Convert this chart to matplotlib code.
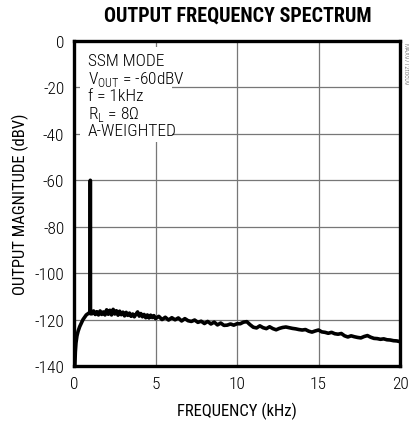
import matplotlib
matplotlib.use("Agg")
import matplotlib.pyplot as plt
from matplotlib.patches import Rectangle

plt.rcParams['font.family'] = ['Roboto Condensed', 'DejaVu Sans']
plt.rcParams['font.weight'] = 'light'
plt.rcParams['mathtext.fontset'] = 'custom'
plt.rcParams['mathtext.rm'] = 'Roboto Condensed:light'
plt.rcParams['axes.unicode_minus'] = False

# noise floor + 1kHz tone (kHz, dBV)
freq = [0.05, 0.08, 0.12, 0.18, 0.25, 0.35, 0.45, 0.55, 0.65, 0.75, 0.85, 0.95,
        0.99, 1.0, 1.01, 1.1, 1.2, 1.3, 1.4, 1.5, 1.6, 1.7, 1.8, 1.9,
        2.0, 2.1, 2.2, 2.3, 2.4, 2.5, 2.6, 2.7, 2.8, 2.9,
        3.0, 3.1, 3.2, 3.3, 3.4, 3.5, 3.6, 3.7, 3.8, 3.9,
        4.0, 4.1, 4.2, 4.3, 4.4, 4.5, 4.6, 4.7, 4.8, 4.9,
        5.0, 5.2, 5.4, 5.6, 5.8, 6.0, 6.2, 6.4, 6.6, 6.8,
        7.0, 7.2, 7.4, 7.6, 7.8, 8.0, 8.2, 8.4, 8.6, 8.8,
        9.0, 9.2, 9.4, 9.6, 9.8, 10.0, 10.2, 10.4, 10.6, 10.8,
        11.0, 11.2, 11.4, 11.6, 11.8, 12.0, 12.2, 12.4, 12.6, 12.8,
        13.0, 13.2, 13.4, 13.6, 13.8, 14.0, 14.2, 14.4, 14.6, 14.8,
        15.0, 15.2, 15.4, 15.6, 15.8, 16.0, 16.2, 16.4, 16.6, 16.8,
        17.0, 17.2, 17.4, 17.6, 17.8, 18.0, 18.2, 18.4, 18.6, 18.8,
        19.0, 19.2, 19.4, 19.6, 19.8, 20.0]
level = [-140, -134, -130, -127, -125, -123, -121.5, -120, -119, -118, -117.5, -117,
         -117, -60, -117.5, -117.5, -116.3, -117.8, -116.6, -118.0, -116.3, -117.8, -116.7, -118.0,
         -115.8, -117.7, -116.0, -118.0, -115.6, -117.6, -116.2, -118.1, -116.4, -117.9,
         -116.8, -118.4, -116.9, -118.2, -117.2, -118.6, -117.6, -118.8, -117.7, -116.7,
         -118.5, -117.4, -118.8, -117.8, -119.2, -118.0, -119.3, -118.1, -119.1, -118.3,
         -119.6, -118.6, -120.0, -119.0, -120.2, -119.2, -120.1, -119.3, -120.6, -119.6,
         -120.5, -120.8, -120.2, -121.2, -120.7, -121.7, -120.8, -121.9, -121.1, -122.3,
         -121.5, -122.5, -122.4, -121.9, -122.4, -121.8, -121.8, -121.1, -120.9, -122.2,
         -123.3, -123.6, -122.7, -123.5, -123.9, -123.1, -123.9, -124.4, -123.8, -123.4,
         -123.2, -123.5, -123.8, -124.0, -124.3, -124.5, -124.3, -125.0, -125.4, -124.9,
         -124.5, -125.3, -125.5, -125.9, -125.5, -126.1, -126.3, -126.0, -127.0, -127.5,
         -127.0, -127.4, -127.7, -127.9, -127.3, -126.9, -127.6, -128.1, -128.2, -128.5,
         -128.3, -128.7, -128.8, -129.1, -129.2, -129.5]

xticks = [0, 5, 10, 15, 20]
yticks = [0, -20, -40, -60, -80, -100, -120, -140]
notes = ["SSM MODE", r"V$_{\mathregular{OUT}}$ = -60dBV", "f = 1kHz",
         r"R$_{\mathregular{L}}$ = 8Ω", "A-WEIGHTED"]

fig = plt.figure(figsize=(4.09, 4.31), dpi=100)
ax = fig.add_axes([0.181, 0.1485, 0.797, 0.754])

ax.plot(freq, level, color='black', lw=2.6, zorder=3, solid_joinstyle='round')

ax.set_xlim(0, 20)
ax.set_ylim(-140, 0)
ax.set_xticks(xticks)
ax.set_yticks(yticks)
ax.tick_params(length=0, labelsize=12.5, pad=7)
ax.set_axisbelow(True)
ax.grid(True, color='#777777', lw=0.9)
for s in ax.spines.values():
    s.set_linewidth(2.4)

# white box behind the notes cuts the grid
ax.add_patch(Rectangle((0.018, 0.689), 0.282, 0.293, transform=ax.transAxes,
                       facecolor='white', edgecolor='none', zorder=1))
for i, t in enumerate(notes):
    ax.text(0.042, 0.94 - i * 0.054, t, transform=ax.transAxes, fontsize=12.5,
            va='center', ha='left', zorder=4)

ax.set_xlabel("FREQUENCY (kHz)", fontsize=12, labelpad=8)
ax.set_ylabel("OUTPUT MAGNITUDE (dBV)", fontsize=12, labelpad=4)
fig.text(0.582, 0.962, "OUTPUT FREQUENCY SPECTRUM", ha='center', va='center',
         fontsize=14.5, fontweight='black')
fig.text(0.989, 0.9, "MAX9712toc09", rotation=270, ha='center', va='top',
         fontsize=5, color='#555555')

fig.savefig("out.png", dpi=100)
